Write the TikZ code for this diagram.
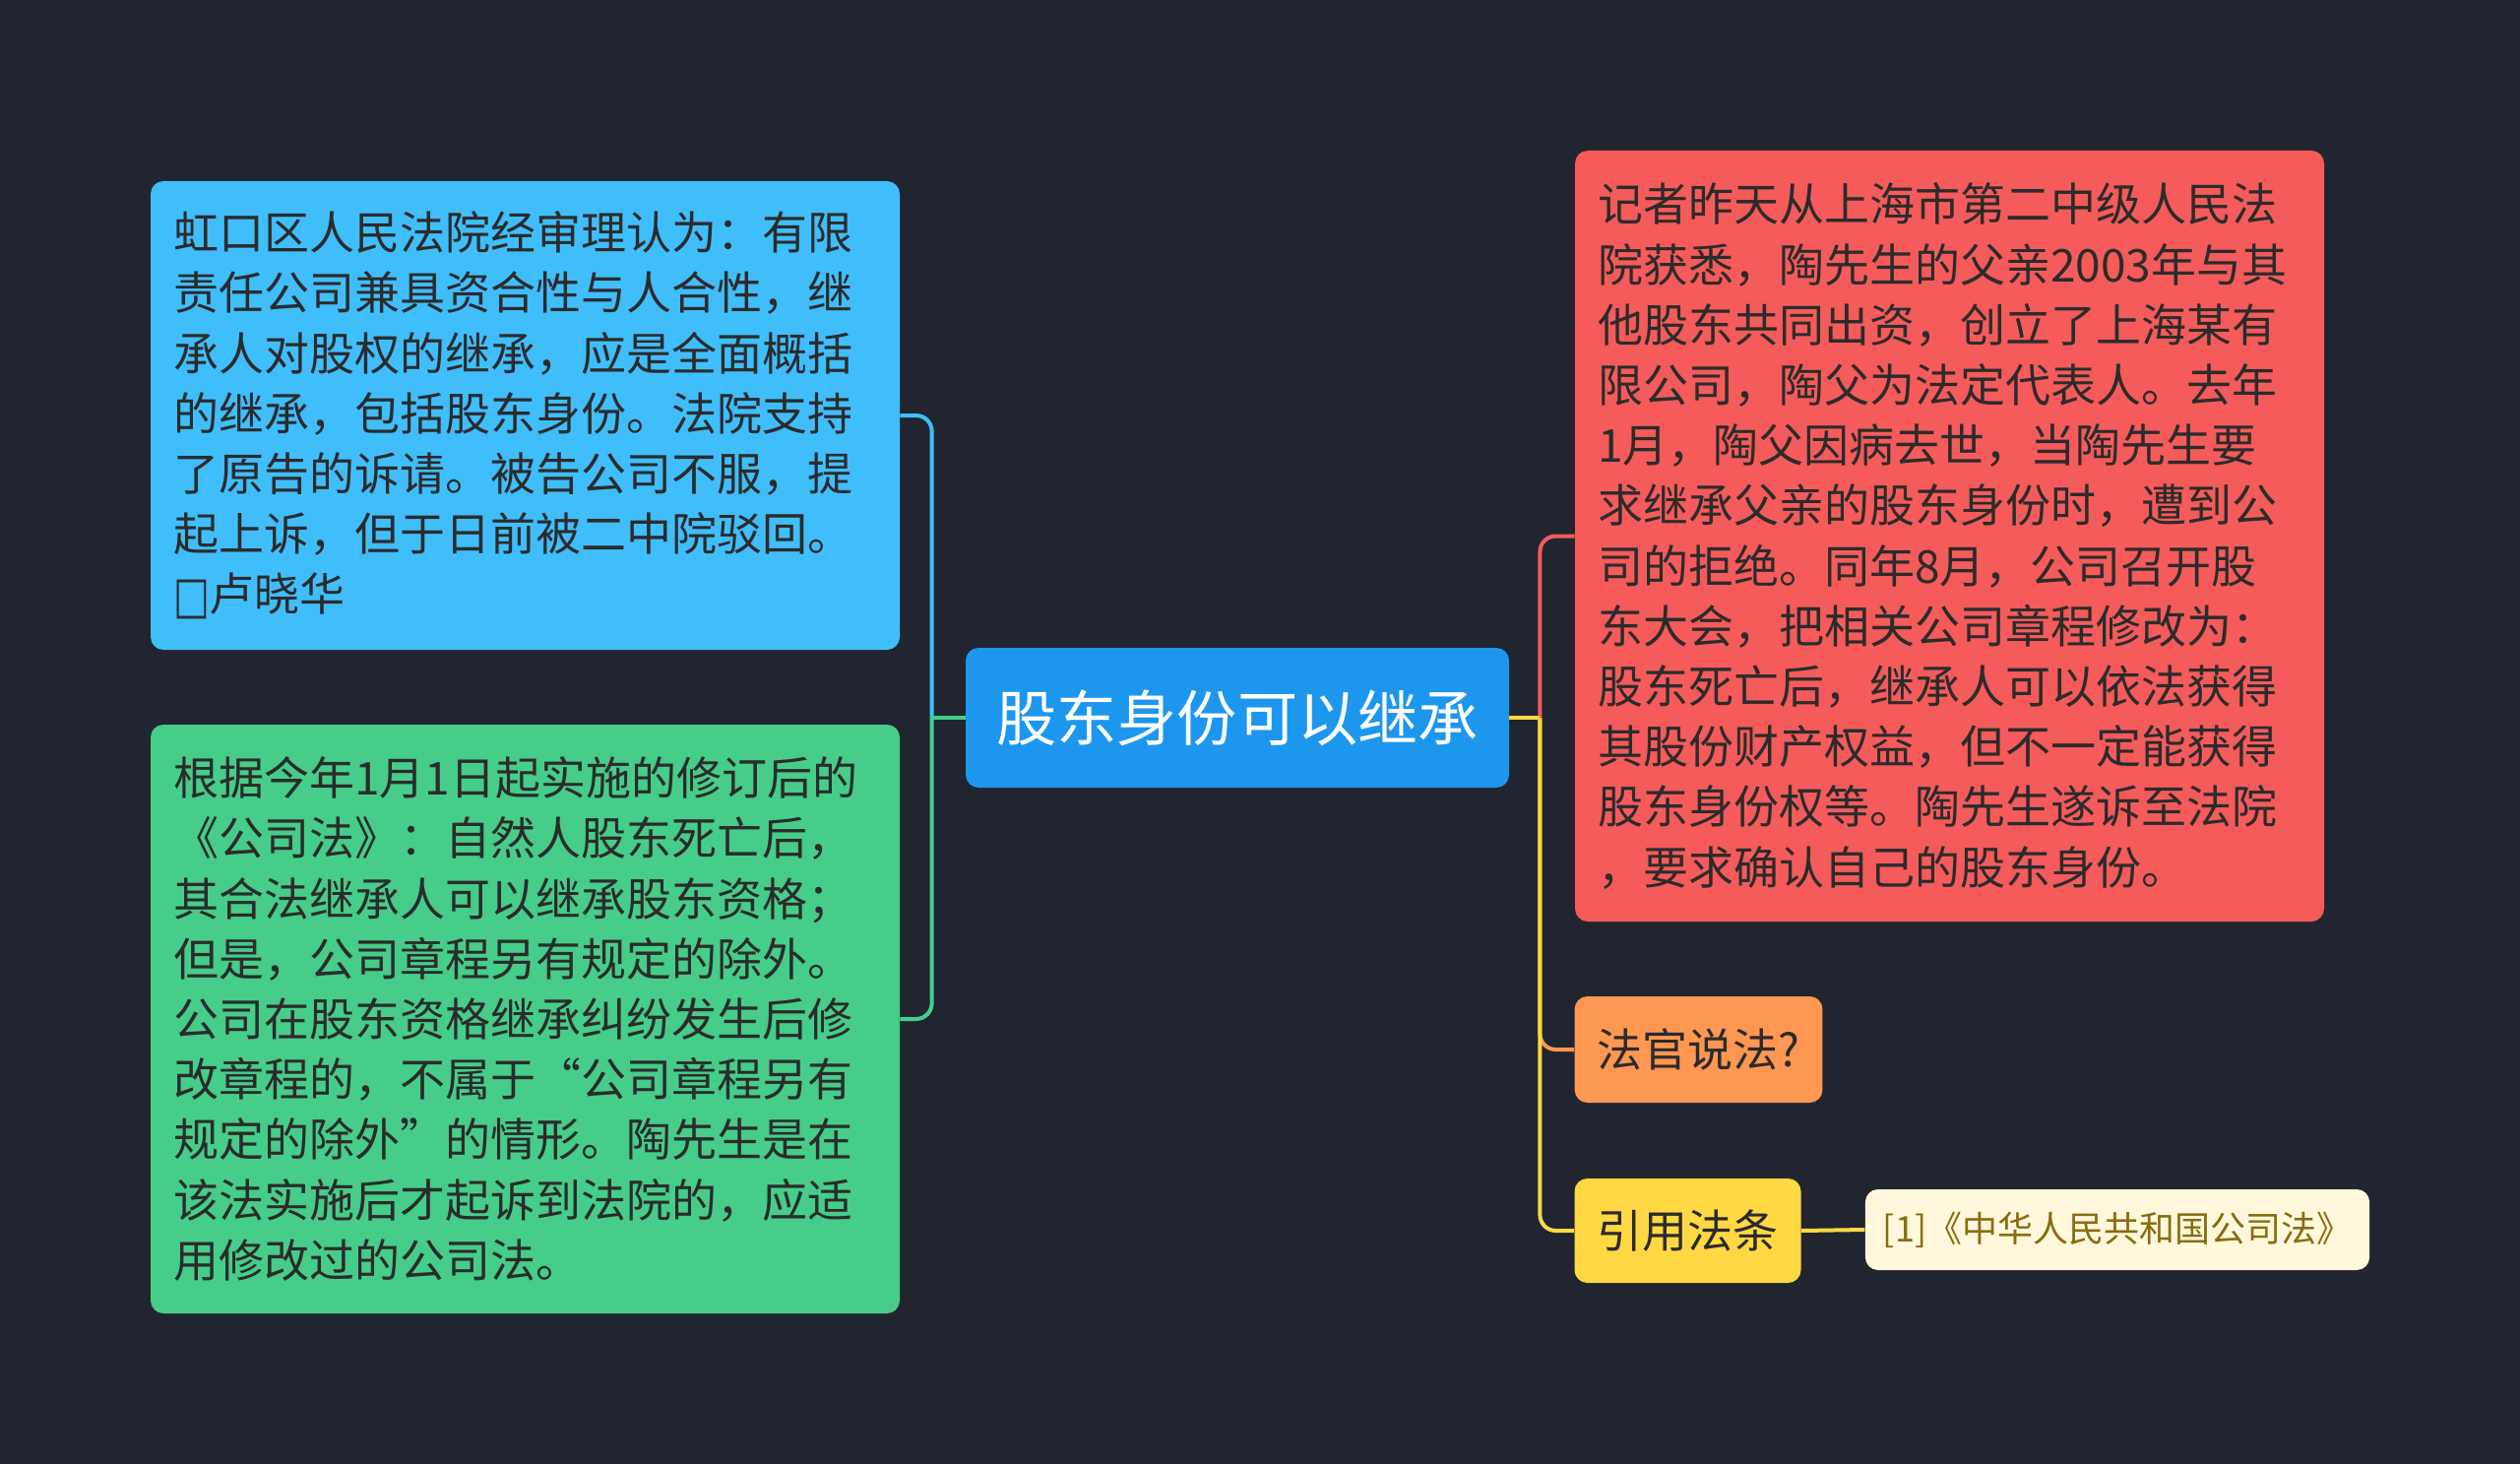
\documentclass[tikz,border=0pt]{standalone}
\usepackage{fontspec}
\setmainfont{Noto Sans CJK SC}
\newfontfamily\symfont{DejaVu Sans}
\definecolor{bg}{HTML}{21252F}
\definecolor{cblue}{HTML}{40BEFC}
\definecolor{ccenter}{HTML}{1D97EE}
\definecolor{cgreen}{HTML}{46CD8A}
\definecolor{cred}{HTML}{F55B5B}
\definecolor{corange}{HTML}{FE9752}
\definecolor{cyellow}{HTML}{FFD843}
\definecolor{ccream}{HTML}{FFF8DC}
\definecolor{ccreamtext}{HTML}{8A6C0E}
\definecolor{txt}{HTML}{2B2B2B}
\tikzset{
  box/.style={rounded corners=6.5pt, inner xsep=11.5pt, inner ysep=0pt, align=left,
    font=\fontsize{23}{30.6}\selectfont, text=txt, anchor=center},
  conn/.style={line width=2pt, rounded corners=8pt},
}
\begin{document}
\begin{tikzpicture}[x=0.5pt,y=-0.5pt]
\fill[bg] (0,0) rectangle (2560,1487);
\useasboundingbox (0,0) rectangle (2560,1487);

\node[box, fill=ccenter, text=white, align=center, font=\fontsize{30.6}{36}\selectfont,
  minimum width=276pt, minimum height=71pt] (center) at (1257,729) {股东身份可以继承};

\node[box, fill=cblue, text width=357.5pt, minimum height=238pt] (blue) at (533.5,422) {%
虹口区人民法院经审理认为：有限\\
责任公司兼具资合性与人合性，继\\
承人对股权的继承，应是全面概括\\
的继承，包括股东身份。法院支持\\
了原告的诉请。被告公司不服，提\\
起上诉，但于日前被二中院驳回。\\
{\symfont\fontsize{26}{26}\selectfont\raisebox{-1pt}{\scalebox{0.75}[1.0]{□}}}卢晓华};

\node[box, fill=cgreen, text width=357.5pt, minimum height=299pt] (green) at (533.5,1035) {%
根据今年1月1日起实施的修订后的\\
《公司法》：自然人股东死亡后，\\
其合法继承人可以继承股东资格；\\
但是，公司章程另有规定的除外。\\
公司在股东资格继承纠纷发生后修\\
改章程的，不属于“公司章程另有\\
规定的除外”的情形。陶先生是在\\
该法实施后才起诉到法院的，应适\\
用修改过的公司法。};

\node[box, fill=cred, text width=357.5pt, minimum height=391.5pt] (red) at (1980.5,544.5) {%
记者昨天从上海市第二中级人民法\\
院获悉，陶先生的父亲2003年与其\\
他股东共同出资，创立了上海某有\\
限公司，陶父为法定代表人。去年\\
1月，陶父因病去世，当陶先生要\\
求继承父亲的股东身份时，遭到公\\
司的拒绝。同年8月，公司召开股\\
东大会，把相关公司章程修改为：\\
股东死亡后，继承人可以依法获得\\
其股份财产权益，但不一定能获得\\
股东身份权等。陶先生遂诉至法院\\
，要求确认自己的股东身份。};

\node[box, fill=corange, minimum width=125.5pt, minimum height=54pt] (orange) at (1725.5,1066) {法官说法?};
\node[box, fill=cyellow, minimum width=114.5pt, minimum height=53pt] (yellow) at (1714.5,1250) {引用法条};
\node[box, fill=ccream, text=ccreamtext, inner xsep=9pt, font=\fontsize{18}{22}\selectfont,
  minimum width=254pt, minimum height=41pt] (cream) at (2151,1249) {[1]《中华人民共和国公司法》};

\coordinate (lj) at ([xshift=-17pt]center.west);
\coordinate (rj) at ([xshift=15.5pt]center.east);

\draw[conn, cblue] (lj) |- (blue.east);
\draw[conn, cgreen] (lj) |- (green.east);
\draw[line width=2pt, cgreen] (center.west) -- (lj);

\draw[conn, cred] (rj) |- (red.west);
\draw[conn, corange] (rj) |- (orange.west);
\draw[conn, cyellow] (rj) |- (yellow.west);
\draw[line width=2pt, cyellow] (center.east) -- (rj);
\draw[line width=2pt, cyellow] (yellow.east) -- (cream.west);
\end{tikzpicture}
\end{document}
